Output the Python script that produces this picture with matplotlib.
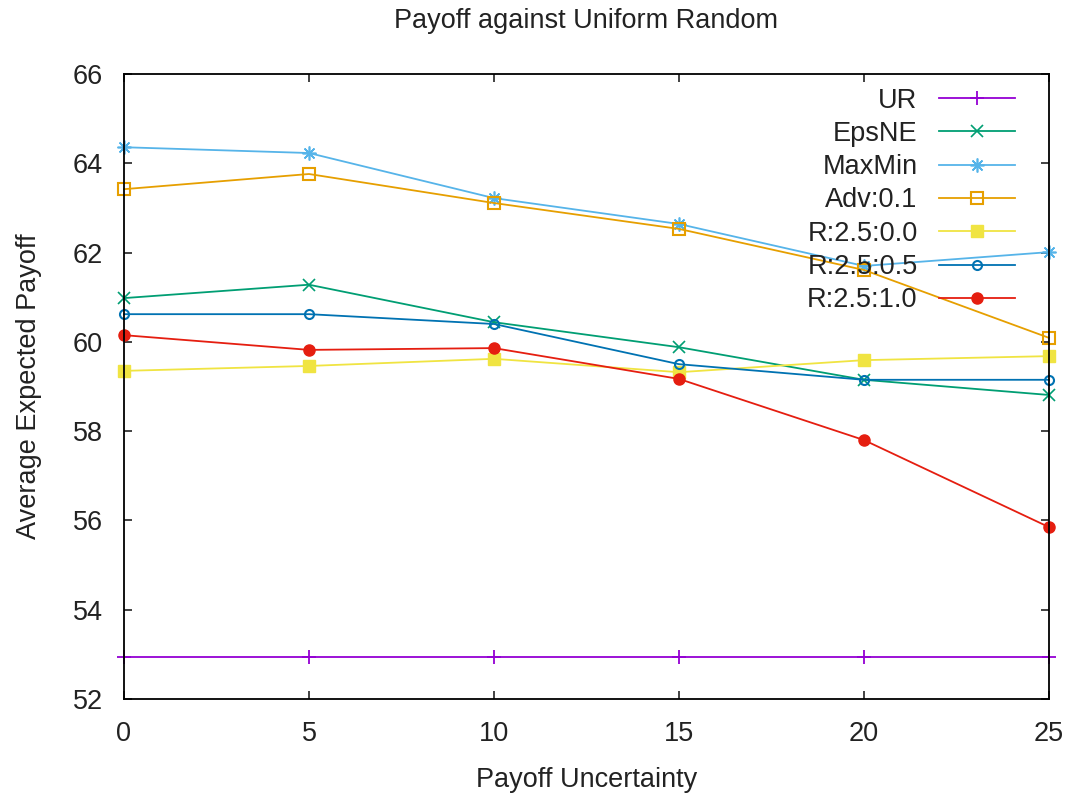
import matplotlib
matplotlib.use("Agg")
import matplotlib.pyplot as plt

plt.rcParams['font.family'] = ['Liberation Sans', 'DejaVu Sans']

# data
uncertainty = [0, 5, 10, 15, 20, 25]
ur = [52.95, 52.95, 52.95, 52.95, 52.95, 52.95]
eps_ne = [60.98, 61.28, 60.44, 59.88, 59.15, 58.81]
maxmin = [64.36, 64.23, 63.22, 62.64, 61.70, 62.01]
adv = [63.42, 63.76, 63.11, 62.53, 61.61, 60.09]
r_00 = [59.35, 59.46, 59.62, 59.32, 59.59, 59.68]
r_05 = [60.62, 60.62, 60.40, 59.50, 59.15, 59.15]
r_10 = [60.15, 59.82, 59.86, 59.17, 57.80, 55.85]

series = [
    ('UR', ur, '#9400d3', dict(marker='+', markersize=10, markeredgewidth=1.3)),
    ('EpsNE', eps_ne, '#009e73', dict(marker='x', markersize=8, markeredgewidth=1.2)),
    ('MaxMin', maxmin, '#56b4e9', dict(marker=(8, 2, 0), markersize=10, markeredgewidth=1.2)),
    ('Adv:0.1', adv, '#e69f00', dict(marker='s', markersize=9, markerfacecolor='none', markeredgewidth=1.5)),
    ('R:2.5:0.0', r_00, '#f0e442', dict(marker='s', markersize=9)),
    ('R:2.5:0.5', r_05, '#0072b2', dict(marker='o', markersize=6.5, markerfacecolor='none', markeredgewidth=1.5)),
    ('R:2.5:1.0', r_10, '#e51e10', dict(marker='o', markersize=8)),
]

fig = plt.figure(figsize=(10.66, 7.95), dpi=100)
ax = fig.add_axes([0.1163, 0.1208, 0.8677, 0.7861])

for label, vals, col, mk in series:
    ax.plot(uncertainty, vals, color=col, lw=1.3, label=label, clip_on=False, **mk)

ax.set_xlim(0, 25)
ax.set_ylim(52, 66)
ax.set_xticks(uncertainty)
ax.set_yticks(range(52, 67, 2))
ax.tick_params(direction='in', top=True, right=True, length=6, width=1.2,
               labelsize=19.5, colors='#222222')
ax.tick_params(axis='y', pad=15)
ax.tick_params(axis='x', pad=16)
for sp in ax.spines.values():
    sp.set_linewidth(1.3)
    sp.set_color('black')

ax.set_title('Payoff against Uniform Random', fontsize=19.5, pad=33, color='#222222')
ax.set_xlabel('Payoff Uncertainty', fontsize=19.5, labelpad=14, color='#222222')
ax.set_ylabel('Average Expected Payoff', fontsize=19.5, labelpad=22, color='#222222')

leg = ax.legend(loc='upper right', bbox_to_anchor=(0.978, 1.0), frameon=False,
                markerfirst=False, fontsize=19.5, handlelength=2.8,
                handletextpad=0.8, labelspacing=0.27, borderaxespad=0.1)
for t in leg.get_texts():
    t.set_color('#222222')

fig.savefig('out.png', dpi=100)
